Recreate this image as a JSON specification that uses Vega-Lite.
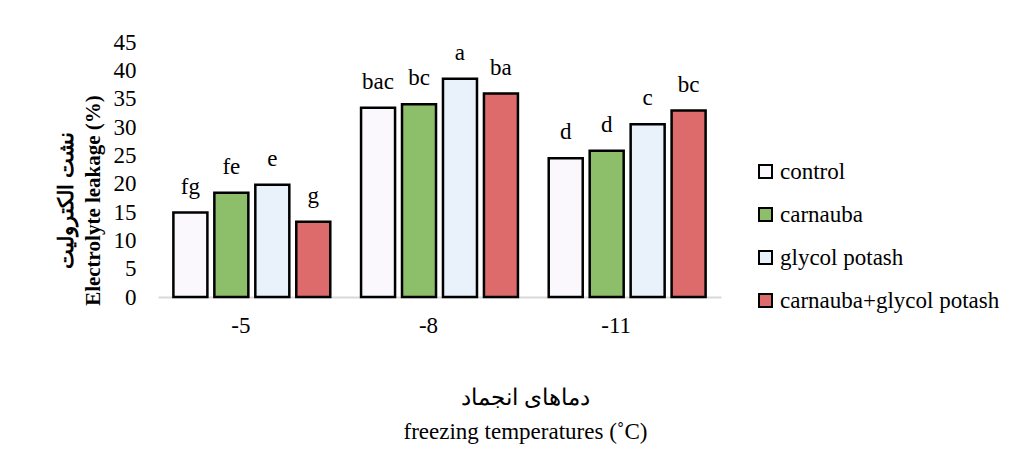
{
  "$schema": "https://vega.github.io/schema/vega-lite/v6.json",
  "width": 563,
  "height": 255,
  "autosize": {"type": "none"},
  "padding": {"left": 158, "top": 42, "right": 299, "bottom": 152},
  "background": "white",
  "config": {"view": {"stroke": null}, "font": "Liberation Serif"},
  "data": {"values": [
    {"temp": "-5", "treatment": "control", "value": 14.9, "letter": "fg"},
    {"temp": "-5", "treatment": "carnauba", "value": 18.4, "letter": "fe"},
    {"temp": "-5", "treatment": "glycol potash", "value": 19.8, "letter": "e"},
    {"temp": "-5", "treatment": "carnauba+glycol potash", "value": 13.3, "letter": "g"},
    {"temp": "-8", "treatment": "control", "value": 33.4, "letter": "bac"},
    {"temp": "-8", "treatment": "carnauba", "value": 34.0, "letter": "bc"},
    {"temp": "-8", "treatment": "glycol potash", "value": 38.5, "letter": "a"},
    {"temp": "-8", "treatment": "carnauba+glycol potash", "value": 35.9, "letter": "ba"},
    {"temp": "-11", "treatment": "control", "value": 24.5, "letter": "d"},
    {"temp": "-11", "treatment": "carnauba", "value": 25.8, "letter": "d"},
    {"temp": "-11", "treatment": "glycol potash", "value": 30.5, "letter": "c"},
    {"temp": "-11", "treatment": "carnauba+glycol potash", "value": 32.9, "letter": "bc"}
  ]},
  "encoding": {
    "x": {
      "field": "temp", "type": "nominal", "sort": ["-5", "-8", "-11"],
      "scale": {"paddingInner": 0.164, "paddingOuter": 0.082},
      "axis": {
        "title": ["دماهای انجماد", "freezing temperatures (˚C)"],
        "titleFontSize": 23, "titleFontWeight": "normal", "titleLineHeight": 34,
        "titleX": 367, "titleY": 100, "titleBaseline": "middle", "titleAlign": "center", "titleColor": "#000",
        "labelAngle": 0, "labelFontSize": 23, "labelPadding": 17, "labelOffset": -11, "labelColor": "#000",
        "ticks": false, "domainColor": "#d9d9d9", "domainWidth": 2, "grid": false
      }
    },
    "xOffset": {
      "field": "treatment", "type": "nominal",
      "sort": ["control", "carnauba", "glycol potash", "carnauba+glycol potash"],
      "scale": {"paddingInner": 0.17, "paddingOuter": 0}
    },
    "y": {
      "field": "value", "type": "quantitative",
      "scale": {"domain": [0, 45], "nice": false},
      "axis": {
        "values": [0, 5, 10, 15, 20, 25, 30, 35, 40, 45],
        "title": ["نشت الکترولیت", "Electrolyte leakage  (%)"],
        "titleFontSize": 21, "titleFontWeight": "bold", "titleLineHeight": 27,
        "titleAngle": -90, "titleX": -92, "titleY": 158, "titleBaseline": "middle", "titleAlign": "center", "titleColor": "#000",
        "labelFontSize": 23, "labelPadding": 22, "labelColor": "#000",
        "domain": false, "ticks": false, "grid": false
      }
    }
  },
  "layer": [
    {
      "mark": {"type": "bar", "stroke": "black", "strokeWidth": 2.5},
      "encoding": {
        "color": {
          "field": "treatment", "type": "nominal",
          "scale": {
            "domain": ["control", "carnauba", "glycol potash", "carnauba+glycol potash"],
            "range": ["#FBF8FD", "#8DBF6B", "#E9F1FA", "#DE6B6B"]
          },
          "legend": {
            "orient": "none", "legendX": 596, "legendY": 118, "title": null,
            "labelFontSize": 23, "labelColor": "#000", "labelOffset": 3, "labelLimit": 400,
            "symbolType": "square", "symbolSize": 169,
            "symbolStrokeColor": "black", "symbolStrokeWidth": 2,
            "rowPadding": 19
          }
        }
      }
    },
    {
      "mark": {"type": "text", "dy": -19, "baseline": "alphabetic", "fontSize": 23, "color": "#000"},
      "encoding": {"text": {"field": "letter"}}
    }
  ]
}
